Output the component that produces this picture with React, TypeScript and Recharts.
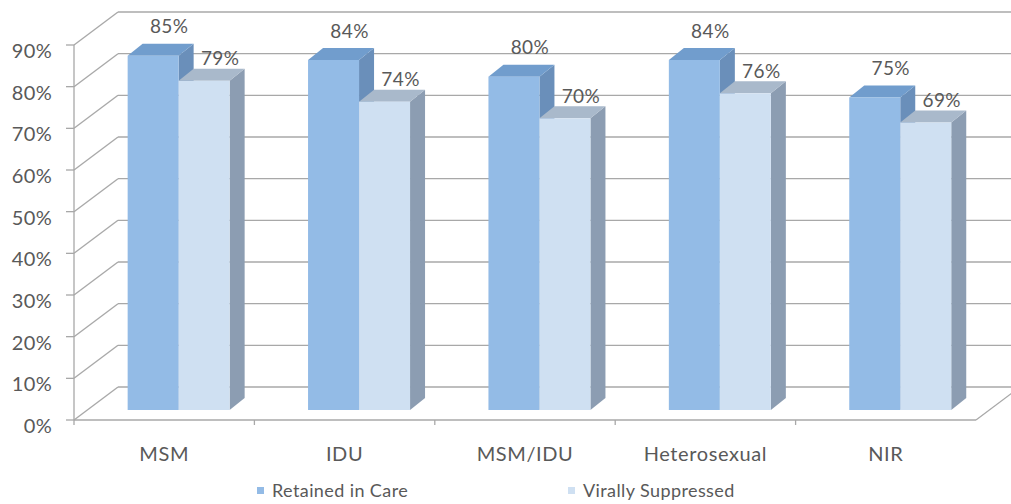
import React from 'react';
import { BarChart, Bar, XAxis, YAxis, CartesianGrid, LabelList } from 'recharts';

const categories = ['MSM', 'IDU', 'MSM/IDU', 'Heterosexual', 'NIR'];
const retainedInCare = [85, 84, 80, 84, 75];
const virallySuppressed = [79, 74, 70, 76, 69];
const yTicks = [0, 10, 20, 30, 40, 50, 60, 70, 80, 90];

const data = categories.map((name, i) => ({
  name,
  retained: retainedInCare[i],
  suppressed: virallySuppressed[i],
}));

// oblique "3D" projection: front plane is the recharts plot area
const WALL_DX = 44;
const WALL_DY = -33;
const BAR_SHIFT_X = 14.5;
const BAR_SHIFT_Y = -10;
const BOX_DX = 15;
const BOX_DY = -12;

const TEXT = '#595959';
const GRID = '#a8a8a8';
const FONT = 'Lato, "Noto Sans", sans-serif';

const COLORS = {
  retained: { front: '#93bbe6', top: '#719dcd', side: '#6a8fba' },
  suppressed: { front: '#cfe0f2', top: '#a9b9cb', side: '#8c9db2' },
};

const makeBox = (c: { front: string; top: string; side: string }) => (props: any) => {
  const { x, y, width, height } = props;
  const l = x + BAR_SHIFT_X;
  const t = y + BAR_SHIFT_Y;
  const r = l + width;
  const b = t + height;
  return (
    <g>
      <polygon
        points={`${r},${t} ${r + BOX_DX},${t + BOX_DY} ${r + BOX_DX},${b + BOX_DY} ${r},${b}`}
        fill={c.side}
      />
      <polygon
        points={`${l},${t} ${l + BOX_DX},${t + BOX_DY} ${r + BOX_DX},${t + BOX_DY} ${r},${t}`}
        fill={c.top}
      />
      <rect x={l} y={t} width={width} height={height} fill={c.front} />
    </g>
  );
};

const makeLabel = (lift: number) => (props: any) => {
  const { x, y, width, value } = props;
  return (
    <text
      x={x + width / 2 + BAR_SHIFT_X + 16}
      y={y + BAR_SHIFT_Y + BOX_DY - lift}
      textAnchor="middle"
      dominantBaseline="central"
      fill={TEXT}
      fontSize={19}
      fontFamily={FONT}
      letterSpacing={0.4}
    >
      {`${value}%`}
    </text>
  );
};

// each horizontal grid value: a diagonal on the left wall, then a line on the back wall
const wallLine = (props: any) => {
  const { x1, y1, x2, index } = props;
  const bx = x1 + WALL_DX;
  const by = y1 + WALL_DY;
  return (
    <g key={`wall-${index}`}>
      <line x1={x1} y1={y1} x2={bx} y2={by} stroke={GRID} strokeWidth={1.3} />
      <line x1={bx} y1={by} x2={1011} y2={by} stroke={GRID} strokeWidth={1.3} />
      {index === 0 && (
        <line x1={x2} y1={y1} x2={x2 + WALL_DX} y2={by} stroke={GRID} strokeWidth={1.3} />
      )}
    </g>
  );
};

const YTick = (props: any) => {
  const { y, payload } = props;
  return (
    <text x={52} y={y + 5} textAnchor="end" dominantBaseline="central" fill={TEXT} fontSize={20} fontFamily={FONT} letterSpacing={0.3}>
      {`${payload.value}%`}
    </text>
  );
};

const XTick = (props: any) => {
  const { x, y, payload } = props;
  const half = payload.offset || 90;
  return (
    <g>
      <line x1={x - half} y1={420} x2={x - half} y2={425} stroke={GRID} strokeWidth={1.3} />
      <text x={x} y={y + 25} textAnchor="middle" dominantBaseline="central" fill={TEXT} fontSize={20} fontFamily={FONT} letterSpacing={0.6}>
        {payload.value}
      </text>
    </g>
  );
};

const legendItems = [
  { label: 'Retained in Care', color: COLORS.retained.front },
  { label: 'Virally Suppressed', color: COLORS.suppressed.front },
];

export default function App() {
  return (
    <div style={{ position: 'absolute', left: 0, top: 0, width: 1011, height: 504, background: '#fff', fontFamily: FONT }}>
      <BarChart
        width={1011}
        height={504}
        data={data}
        margin={{ top: 45, right: 35, bottom: 54, left: 0 }}
        barCategoryGap="21.7%"
        barGap={0}
      >
        <CartesianGrid vertical={false} horizontal={wallLine} />
        <YAxis
          domain={[0, 90]}
          ticks={yTicks}
          width={74}
          axisLine={{ stroke: GRID, strokeWidth: 1.3 }}
          tickLine={{ stroke: GRID, strokeWidth: 1.3 }}
          tickSize={8}
          tick={<YTick />}
          interval={0}
        />
        <XAxis
          dataKey="name"
          height={30}
          axisLine={{ stroke: GRID, strokeWidth: 1.3 }}
          tickLine={false}
          tick={<XTick />}
          interval={0}
        />
        <Bar dataKey="retained" name="Retained in Care" shape={makeBox(COLORS.retained)} isAnimationActive={false}>
          <LabelList dataKey="retained" content={makeLabel(18)} />
        </Bar>
        <Bar dataKey="suppressed" name="Virally Suppressed" shape={makeBox(COLORS.suppressed)} isAnimationActive={false}>
          <LabelList dataKey="suppressed" content={makeLabel(11)} />
        </Bar>
      </BarChart>
      <div style={{ position: 'absolute', top: 480, left: 0, width: 1011, height: 20 }}>
        {legendItems.map((item, i) => (
          <div
            key={item.label}
            style={{
              position: 'absolute',
              left: i === 0 ? 257 : 568,
              top: 0,
              display: 'flex',
              alignItems: 'center',
              fontSize: 18,
              letterSpacing: 0.4,
              color: TEXT,
              lineHeight: '20px',
            }}
          >
            <span style={{ width: 7, height: 7, background: item.color, marginRight: 8, display: 'inline-block' }} />
            {item.label}
          </div>
        ))}
      </div>
    </div>
  );
}
